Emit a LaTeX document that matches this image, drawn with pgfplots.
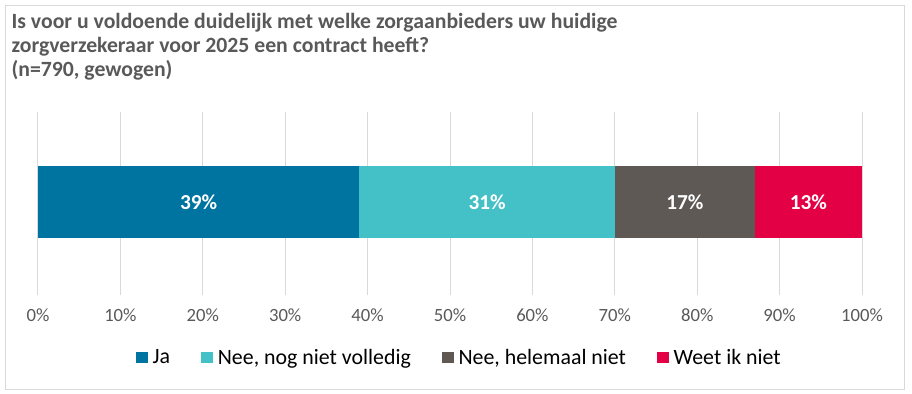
\documentclass[border=0pt]{standalone}
\usepackage{pgfplots}
\pgfplotsset{compat=1.18}
\usepackage{fontspec}
\setmainfont{Carlito}
\definecolor{cJa}{HTML}{0074A0}
\definecolor{cNog}{HTML}{43C1C6}
\definecolor{cHel}{HTML}{5E5955}
\definecolor{cWeet}{HTML}{E40045}
\definecolor{cGrid}{HTML}{D9D9D9}
\definecolor{cText}{HTML}{595959}
\begin{document}
\begin{tikzpicture}
\path[use as bounding box] (0,0) rectangle (684pt,-294.75pt);
\draw[cGrid, line width=0.75pt] (3.75pt,-3.75pt) rectangle (678pt,-291.75pt);
\begin{scope}[every node/.style={anchor=base west, inner sep=0pt, text=cText, font=\fontsize{16.3}{19}\selectfont\bfseries}]
\node at (8.5pt,-21pt) {Is voor u voldoende duidelijk met welke zorgaanbieders uw huidige};
\node at (8.5pt,-39pt) {zorgverzekeraar voor 2025 een contract heeft?};
\node at (8.5pt,-57pt) {(n=790, gewogen)};
\end{scope}
\begin{axis}[
  at={(28.5pt,-221.25pt)}, anchor=south west,
  scale only axis, width=618pt, height=137.25pt,
  xbar stacked, bar width=54pt,
  xmin=0, xmax=100, ymin=-1.016, ymax=0.984,
  ytick=\empty,
  xtick={0,10,...,100},
  xticklabel={\pgfmathprintnumber{\tick}\%},
  /pgf/number format/assume math mode=true,
  xticklabel style={text=cText, font=\fontsize{14}{17}\selectfont, yshift=-6.5pt},
  major tick length=0pt,
  axis line style={draw=none},
  xmajorgrids, grid style={cGrid, line width=0.75pt},
  legend columns=4,
  legend style={at={(0.51,-0.344)}, anchor=center, draw=none, fill=none,
    font=\fontsize{16.4}{19}\selectfont, text=black,
    nodes={inner sep=0pt},
    /tikz/every odd column/.append style={column sep=3.75pt},
    /tikz/every even column/.append style={column sep=23pt}},
  legend image code/.code={\fill[#1] (0pt,-4.125pt) rectangle (9pt,4.125pt);},
]
\addplot[fill=cJa, draw=none] coordinates {(39,0)};
\addplot[fill=cNog, draw=none] coordinates {(31,0)};
\addplot[fill=cHel, draw=none] coordinates {(17,0)};
\addplot[fill=cWeet, draw=none] coordinates {(13,0)};
\legend{Ja, {Nee, nog niet volledig}, {Nee, helemaal niet}, Weet ik niet}
\end{axis}
\begin{axis}[
  at={(28.5pt,-221.25pt)}, anchor=south west,
  scale only axis, width=618pt, height=137.25pt,
  xmin=0, xmax=100, ymin=-1.016, ymax=0.984,
  hide axis,
]
\addplot[only marks, mark=none, point meta=explicit symbolic,
  nodes near coords, nodes near coords align=center,
  every node near coord/.append style={text=white, font=\fontsize{16}{19}\selectfont\bfseries, anchor=center}]
  coordinates {(19.5,0) [39\%] (54.5,0) [31\%] (78.5,0) [17\%] (93.5,0) [13\%]};
\end{axis}
\end{tikzpicture}
\end{document}
